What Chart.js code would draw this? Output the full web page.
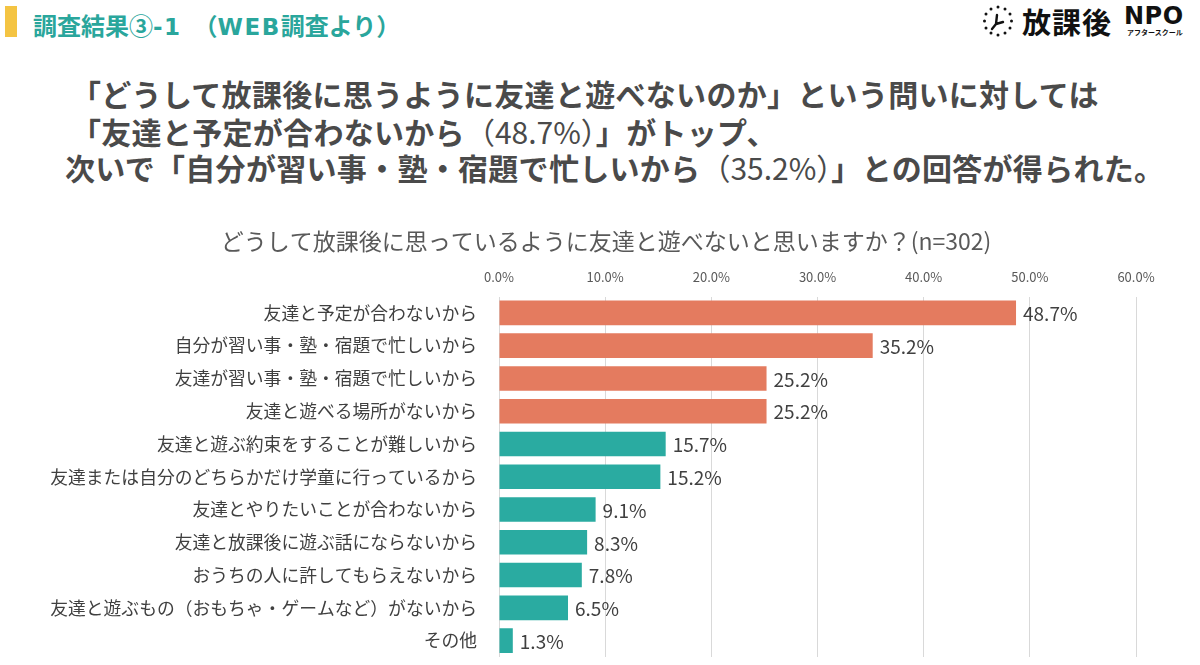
<!DOCTYPE html>
<html lang="ja">
<head>
<meta charset="utf-8">
<script src="https://cdn.jsdelivr.net/npm/chart.js@4.4.1/dist/chart.umd.min.js"></script>
<style>
  html, body { margin: 0; padding: 0; background: #ffffff; }
  body { width: 1200px; height: 665px; position: relative; overflow: hidden;
         font-family: "Noto Sans CJK JP", "Noto Sans", sans-serif; }
  .abs { position: absolute; white-space: nowrap; }
  #ybar { left: 5px; top: 6px; width: 12px; height: 31px; background: #F4C443; }
  #head { left: 33px; top: 8px; line-height: 34px; font-size: 24px; font-weight: 700; color: #2AA69C; }
  #head .lat { font-family: "DejaVu Sans", sans-serif; font-size: 23px; letter-spacing: 1.5px; }
  .hl { font-size: 30px; font-weight: 700; color: #4a4a4a; line-height: 36px; letter-spacing: 0.3px; }
  .hl .num { font-weight: 400; letter-spacing: 0; }
  #logoK { left: 1022px; top: 1px; font-size: 29px; font-weight: 700; color: #111; line-height: 40px; letter-spacing: 1px; }
  #logoN { left: 1124px; top: 3px; font-family: "DejaVu Sans", sans-serif; font-size: 24px; font-weight: 700; color: #111; line-height: 26px; letter-spacing: 0.5px; }
  #logoS { left: 1127px; top: 28px; font-size: 7px; font-weight: 700; color: #111; line-height: 9px; }
  #chartWrap { position: absolute; left: 0; top: 200px; width: 1200px; height: 465px; }
</style>
</head>
<body>
<div id="ybar" class="abs"></div>
<div id="head" class="abs">調査結果③<span class="lat">-1</span>　（<span class="lat">WEB</span>調査より）</div>

<svg class="abs" style="left:980px;top:3px" width="36" height="36" viewBox="0 0 36 36">
  <g fill="#111">
    <circle cx="18" cy="4" r="1.5"/><circle cx="25" cy="6" r="1.5"/><circle cx="30" cy="11" r="1.5"/>
    <circle cx="31.5" cy="18" r="1.5"/><circle cx="30" cy="25" r="1.5"/><circle cx="25" cy="30" r="1.5"/>
    <circle cx="18" cy="32" r="1.5"/><circle cx="11" cy="30" r="1.5"/><circle cx="6" cy="25" r="1.5"/>
    <circle cx="4.5" cy="18" r="1.5"/><circle cx="6" cy="11" r="1.5"/><circle cx="11" cy="6" r="1.5"/>
  </g>
  <path d="M17 12 L16 21 L12 26 M16 21 L23 19" stroke="#111" stroke-width="2.4" fill="none" stroke-linecap="round"/>
</svg>
<div id="logoK" class="abs">放課後</div>
<div id="logoN" class="abs">NPO</div>
<div id="logoS" class="abs">アフタースクール</div>

<div class="abs hl" style="left:71px;top:75px">「どうして放課後に思うように友達と遊べないのか」という問いに対しては</div>
<div class="abs hl" style="left:71px;top:113px">「友達と予定が合わないから<span class="num">（48.7%）</span>」がトップ、</div>
<div class="abs hl" style="left:65px;top:149px">次いで「自分が習い事・塾・宿題で忙しいから<span class="num">（35.2%）</span>」との回答が得られた。</div>

<div id="chartWrap"><canvas id="c" width="1200" height="465"></canvas></div>

<script>
const chartTitle = "どうして放課後に思っているように友達と遊べないと思いますか？(n=302)";
const categories = [
  "友達と予定が合わないから",
  "自分が習い事・塾・宿題で忙しいから",
  "友達が習い事・塾・宿題で忙しいから",
  "友達と遊べる場所がないから",
  "友達と遊ぶ約束をすることが難しいから",
  "友達または自分のどちらかだけ学童に行っているから",
  "友達とやりたいことが合わないから",
  "友達と放課後に遊ぶ話にならないから",
  "おうちの人に許してもらえないから",
  "友達と遊ぶもの（おもちゃ・ゲームなど）がないから",
  "その他"
];
const values = [48.7, 35.2, 25.2, 25.2, 15.7, 15.2, 9.1, 8.3, 7.8, 6.5, 1.3];
const highlightCount = 4;
const tickValues = [0, 10, 20, 30, 40, 50, 60];

const ORANGE = "#E47B5F";
const TEAL = "#2AABA1";
const barColors = values.map((v, i) => i < highlightCount ? ORANGE : TEAL);

const FONT = '"Noto Sans CJK JP", "Noto Sans", sans-serif';

const valueLabels = {
  id: "valueLabels",
  afterDatasetsDraw(chart) {
    const ctx = chart.ctx;
    const meta = chart.getDatasetMeta(0);
    ctx.save();
    ctx.font = "19px " + FONT;
    ctx.fillStyle = "#404040";
    ctx.textAlign = "left";
    ctx.textBaseline = "middle";
    meta.data.forEach((bar, i) => {
      ctx.fillText(values[i].toFixed(1) + "%", bar.x + 7, bar.y + 1);
    });
    ctx.restore();
  }
};

// chart title drawn centred over the whole figure (not just the plot box)
const centredTitle = {
  id: "centredTitle",
  afterDraw(chart) {
    const ctx = chart.ctx;
    ctx.save();
    ctx.font = "23px " + FONT;
    ctx.fillStyle = "#595959";
    ctx.textAlign = "center";
    ctx.textBaseline = "middle";
    ctx.fillText(chartTitle, 606, 41);
    ctx.restore();
  }
};

new Chart(document.getElementById("c"), {
  type: "bar",
  data: {
    labels: categories,
    datasets: [{
      data: values,
      backgroundColor: barColors,
      borderWidth: 0,
      categoryPercentage: 1.0,
      barPercentage: 0.75
    }]
  },
  options: {
    indexAxis: "y",
    responsive: false,
    animation: false,
    layout: { padding: { left: 0, right: 64, top: 62.5, bottom: 8 } },
    plugins: {
      legend: { display: false },
      tooltip: { enabled: false },
      title: { display: false }
    },
    scales: {
      x: {
        position: "top",
        min: 0,
        max: 60,
        afterBuildTicks(scale) { scale.ticks = tickValues.map(v => ({ value: v })); },
        afterFit(scale) { scale.height = 34; },
        ticks: {
          callback: v => Number(v).toFixed(1) + "%",
          color: "#595959",
          font: { family: FONT, size: 13 },
          padding: 12
        },
        grid: { color: "#D9D9D9", lineWidth: 1, drawTicks: false },
        border: { display: false }
      },
      y: {
        afterFit(scale) {
          scale.width = 499;
          scale.paddingTop = 0;
          scale.paddingBottom = 0;
        },
        ticks: {
          color: "#404040",
          font: { family: FONT, size: 17.8 },
          padding: 22,
          autoSkip: false
        },
        grid: { display: false, drawTicks: false },
        border: { display: false }
      }
    }
  },
  plugins: [valueLabels, centredTitle]
});
</script>
</body>
</html>
